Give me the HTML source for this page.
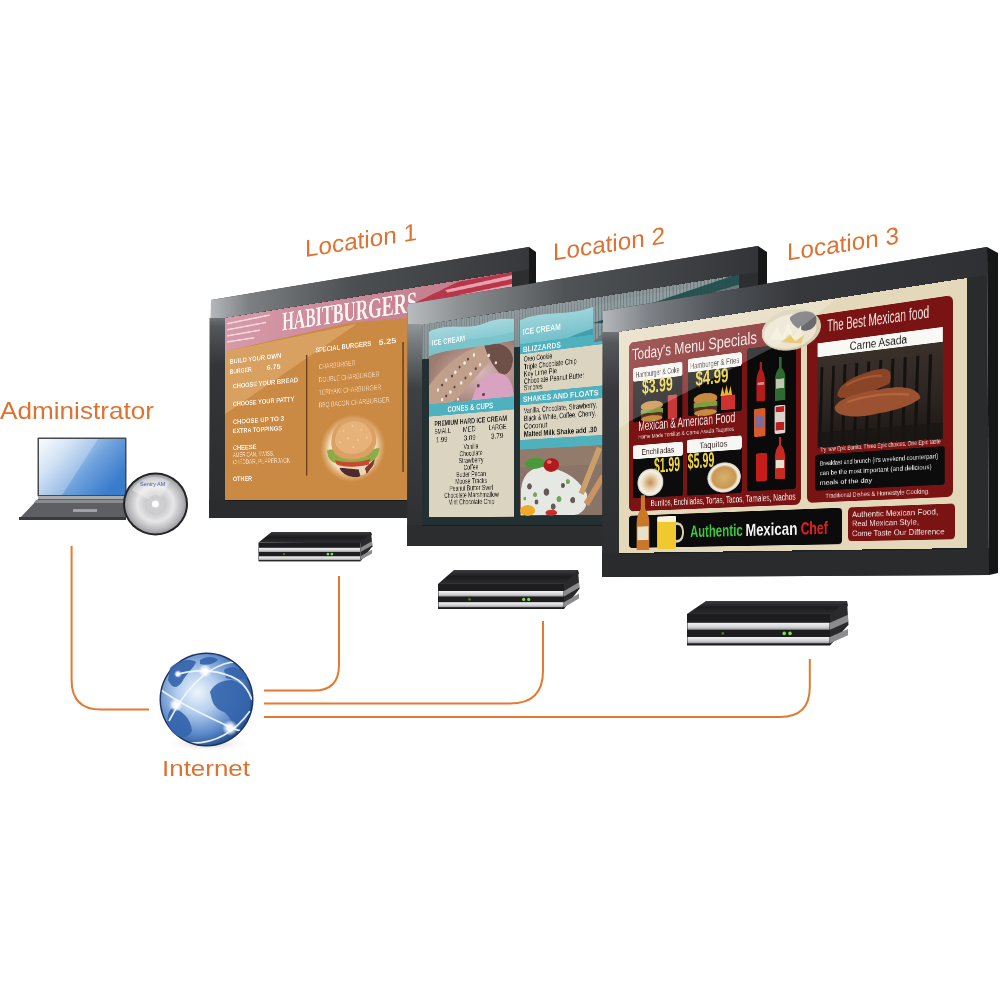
<!DOCTYPE html>
<html><head><meta charset="utf-8">
<style>
html,body{margin:0;padding:0;background:#fff;}
body{width:1000px;height:1000px;position:relative;overflow:hidden;font-family:"Liberation Sans",sans-serif;}
.L{position:absolute;left:0;top:0;width:1000px;height:1000px;}
.scr{position:absolute;left:0;top:0;width:640px;height:360px;transform-origin:0 0;overflow:hidden;}
.scr svg{display:block;}
</style></head><body>

<!-- ============ MONITOR 1 ============ -->
<svg class="L" viewBox="0 0 1000 1000">
  <defs>
    <linearGradient id="bz1" x1="211" y1="0" x2="529" y2="0" gradientUnits="userSpaceOnUse">
      <stop offset="0" stop-color="#b4b8ba"/><stop offset="0.12" stop-color="#7c8083"/><stop offset="0.45" stop-color="#4c4f52"/><stop offset="1" stop-color="#36383b"/>
    </linearGradient>
    <linearGradient id="bl1" x1="0" y1="300" x2="0" y2="518" gradientUnits="userSpaceOnUse">
      <stop offset="0" stop-color="#a8acae"/><stop offset="0.12" stop-color="#55585b"/><stop offset="0.3" stop-color="#333538"/><stop offset="1" stop-color="#2a2c2e"/>
    </linearGradient>
  </defs>
  <polygon points="211,300 529,247 529,518 209,518" fill="#2c2e30"/>
  <polygon points="211,300 529,247 529,269.3 211,320.2" fill="url(#bz1)"/>
  <polygon points="209.5,318 225,318 225,500 209.5,500" fill="url(#bl1)"/>
  <polygon points="209,500 529,500 529,518 209,518" fill="#2a2c2e"/>
  <line x1="225" y1="500.5" x2="529" y2="500.5" stroke="#1a1b1c" stroke-width="1"/>
  <polygon points="529,247 536,252 536,518 529,518" fill="#161718"/>
</svg>
<div class="scr" id="s1" style="transform:matrix3d(0.28703399,-0.15762061,0,-0.00031524123,0,0.50555556,0,0,0,0,1,0,225,318,0,1)">
<svg width="640" height="360" viewBox="0 0 640 360" font-family="Liberation Sans, sans-serif">
  <defs>
    <radialGradient id="bgl" cx="0.5" cy="0.5" r="0.5">
      <stop offset="0" stop-color="#fff6e6"/><stop offset="0.7" stop-color="#fff0d8" stop-opacity="0.85"/><stop offset="1" stop-color="#f0c890" stop-opacity="0"/>
    </radialGradient>
    <linearGradient id="pinkg" x1="0" y1="0" x2="1" y2="0">
      <stop offset="0" stop-color="#d79aa8"/><stop offset="1" stop-color="#c07888"/>
    </linearGradient>
  </defs>
  <rect width="640" height="360" fill="#ca8a44"/>
  <!-- glare lighter region on the body -->
  <polygon points="0,66 330,48 0,190" fill="#dba467" opacity="0.85"/>
  <!-- pink band -->
  <polygon points="0,0 640,0 640,40 438,50 314,44 0,66" fill="url(#pinkg)"/>
  <polygon points="440,30 540,2 640,0 640,34 470,36" fill="#b8354a"/>
  <polygon points="515,12 640,5 640,11 520,17" fill="#e6a2ae"/>
  <polygon points="540,24 640,19 640,24 545,28" fill="#e6a2ae"/>
  <g stroke="#f3d8de" stroke-width="3">
    <line x1="5" y1="12" x2="120" y2="8"/><line x1="5" y1="24" x2="110" y2="21"/><line x1="5" y1="36" x2="95" y2="34"/><line x1="5" y1="48" x2="80" y2="47"/>
  </g>
  <text x="152" y="41" font-family="Liberation Serif, serif" font-weight="bold" font-size="50" fill="#fbf4f2" textLength="307" lengthAdjust="spacingAndGlyphs">HABITBURGERS</text>
  <!-- dividers -->
  <line x1="213" y1="92" x2="213" y2="315" stroke="#6a3c18" stroke-width="3"/>
  <line x1="430" y1="90" x2="430" y2="312" stroke="#6a3c18" stroke-width="3"/>
  <!-- left column -->
  <g fill="#fbf2e6" font-weight="bold" font-size="13">
    <text x="13" y="92" textLength="137" lengthAdjust="spacingAndGlyphs">BUILD YOUR OWN</text>
    <text x="13" y="112" textLength="60" lengthAdjust="spacingAndGlyphs">BURGER</text>
    <text x="112" y="112" textLength="36" lengthAdjust="spacingAndGlyphs">6.75</text>
    <text x="22" y="141" textLength="170" lengthAdjust="spacingAndGlyphs">CHOOSE YOUR BREAD</text>
    <text x="22" y="176" textLength="161" lengthAdjust="spacingAndGlyphs">CHOOSE YOUR PATTY</text>
    <text x="22" y="211" textLength="135" lengthAdjust="spacingAndGlyphs">CHOOSE UP TO 3</text>
    <text x="22" y="229" textLength="130" lengthAdjust="spacingAndGlyphs">EXTRA TOPPINGS</text>
    <text x="22" y="262" textLength="64" lengthAdjust="spacingAndGlyphs">CHEESE</text>
    <text x="22" y="323" textLength="52" lengthAdjust="spacingAndGlyphs">OTHER</text>
  </g>
  <g fill="#f4dcc0" font-size="12">
    <text x="22" y="276" textLength="110" lengthAdjust="spacingAndGlyphs">AMERICAN, SWISS,</text>
    <text x="22" y="290" textLength="150" lengthAdjust="spacingAndGlyphs">CHEDDAR, PEPPERJACK</text>
  </g>
  <!-- right column -->
  <g fill="#fbf2e6" font-weight="bold" font-size="13">
    <text x="234" y="90" textLength="128" lengthAdjust="spacingAndGlyphs">SPECIAL BURGERS</text>
    <text x="378" y="90" textLength="38" lengthAdjust="spacingAndGlyphs">5.25</text>
  </g>
  <g fill="#f0d2b0" font-size="12">
    <text x="242" y="121" textLength="85" lengthAdjust="spacingAndGlyphs">CHARBURGER</text>
    <text x="242" y="145" textLength="138" lengthAdjust="spacingAndGlyphs">DOUBLE CHARBURGER</text>
    <text x="242" y="168" textLength="142" lengthAdjust="spacingAndGlyphs">TERIYAKI CHARBURGER</text>
    <text x="242" y="191" textLength="160" lengthAdjust="spacingAndGlyphs">BBQ BACON CHARBURGER</text>
  </g>
  <!-- burger -->
  <ellipse cx="319" cy="268" rx="74" ry="60" fill="url(#bgl)"/>
  <path d="M290,300 C300,318 350,326 368,300 L364,290 L290,290 Z" fill="#ead6b8"/>
  <path d="M290,302 C298,316 320,322 338,318 L334,306 Z" fill="#4e2a2c"/>
  <path d="M348,304 L370,288 L366,300 L352,314 Z" fill="#7a3a30"/>
  <path d="M262,270 C270,266 286,270 298,276 C314,282 340,280 356,276 C366,272 374,268 380,270 C378,284 368,294 352,294 C330,298 300,298 282,294 C268,290 262,282 262,270 Z" fill="#8cac48"/>
  <path d="M280,288 C304,294 336,294 360,288 L356,298 C332,302 304,302 284,296 Z" fill="#c8482e"/>
  <path d="M272,262 C268,232 292,214 322,214 C352,214 376,232 372,262 C366,282 340,288 322,288 C300,288 276,282 272,262 Z" fill="#daa064"/>
  <path d="M280,256 C280,232 300,220 322,220 C346,220 364,234 364,256 C356,272 338,278 322,278 C304,278 286,272 280,256 Z" fill="#e6b27a"/>
  <g fill="#f4dcb8" opacity="0.6"><circle cx="300" cy="236" r="2"/><circle cx="320" cy="228" r="2"/><circle cx="340" cy="236" r="2"/><circle cx="310" cy="250" r="2"/><circle cx="332" cy="254" r="2"/><circle cx="352" cy="250" r="2"/><circle cx="292" cy="256" r="2"/><circle cx="322" cy="266" r="2"/></g>
</svg>
</div>

<!-- ============ MONITOR 2 ============ -->
<svg class="L" viewBox="0 0 1000 1000">
  <defs>
    <linearGradient id="bz2" x1="408" y1="0" x2="758" y2="0" gradientUnits="userSpaceOnUse">
      <stop offset="0" stop-color="#b8bcbe"/><stop offset="0.15" stop-color="#8c9093"/><stop offset="0.45" stop-color="#505356"/><stop offset="1" stop-color="#323437"/>
    </linearGradient>
    <linearGradient id="bl2" x1="0" y1="304" x2="0" y2="546" gradientUnits="userSpaceOnUse">
      <stop offset="0" stop-color="#b0b4b6"/><stop offset="0.15" stop-color="#7a7e81"/><stop offset="0.35" stop-color="#3e4043"/><stop offset="1" stop-color="#2c2e30"/>
    </linearGradient>
  </defs>
  <polygon points="408,304 758,246 758,546 407,546" fill="#2c2e30"/>
  <polygon points="408,304 758,246 758,272 408,327.2" fill="url(#bz2)"/>
  <polygon points="407.5,324 422,324 422,525 407.5,525" fill="url(#bl2)"/>
  <polygon points="407,525 758,525 758,546 407,546" fill="#2b2d2f"/>
  <line x1="422" y1="525.5" x2="758" y2="525.5" stroke="#1a1b1c" stroke-width="1"/>
  <polygon points="758,246 767,252 767,546 758,546" fill="#161718"/>
</svg>
<div class="scr" id="s2" style="transform:matrix3d(0.264375,-0.1640625,0,-0.0003125,0,0.55555556,0,0,0,0,1,0,422,325,0,1)">
<svg width="640" height="360" viewBox="0 0 640 360" font-family="Liberation Sans, sans-serif">
  <defs>
    <linearGradient id="s2top" x1="0" y1="0" x2="0" y2="1">
      <stop offset="0" stop-color="#9aa3a6"/><stop offset="1" stop-color="#7a8689"/>
    </linearGradient>
    <pattern id="vlines" width="6" height="10" patternUnits="userSpaceOnUse">
      <rect width="6" height="10" fill="#8e989b"/><rect width="2" height="10" fill="#6f7a7d"/>
    </pattern>
    <linearGradient id="tealh" x1="0" y1="0" x2="0" y2="1">
      <stop offset="0" stop-color="#a6d8de"/><stop offset="1" stop-color="#74c0ca"/>
    </linearGradient>
    <radialGradient id="icph" cx="0.6" cy="0.5" r="0.6">
      <stop offset="0" stop-color="#d8b8c0"/><stop offset="0.6" stop-color="#b8948c"/><stop offset="1" stop-color="#9c7c70"/>
    </radialGradient>
  </defs>
  <rect width="640" height="360" fill="#223032"/>
  <rect width="640" height="62" fill="url(#vlines)"/>
  <rect width="640" height="62" fill="url(#s2top)" opacity="0.35"/>
  <!-- panel 1 -->
  <rect x="18" y="30" width="198" height="316" fill="#dbd4c0"/>
  <path d="M18,14 C60,2 110,22 150,14 C180,8 200,12 216,14 V60 H18 Z" fill="url(#tealh)"/>
  <rect x="18" y="48" width="198" height="100" fill="url(#icph)"/>
  <path d="M18,148 L18,110 C50,80 110,50 160,50 L190,56 C150,90 100,130 70,148 Z" fill="#c0a08a"/>
  <path d="M150,52 C180,46 210,58 214,80 C214,100 200,110 186,104 C170,90 156,70 150,52 Z" fill="#6e5048"/>
  <path d="M120,148 C130,110 160,96 190,104 C210,112 216,130 216,148 Z" fill="#d8a2c0"/>
  <g fill="#f6f0ec" opacity="0.9">
    <circle cx="40" cy="120" r="3"/><circle cx="60" cy="104" r="3"/><circle cx="82" cy="92" r="3"/><circle cx="104" cy="78" r="3"/><circle cx="126" cy="66" r="3"/><circle cx="70" cy="126" r="3"/><circle cx="96" cy="112" r="3"/><circle cx="118" cy="98" r="3"/><circle cx="140" cy="84" r="3"/><circle cx="50" cy="138" r="3"/><circle cx="88" cy="140" r="2.5"/><circle cx="160" cy="70" r="3"/><circle cx="176" cy="84" r="2.5"/>
  </g>
  <g fill="#4a2a36" opacity="0.8">
    <circle cx="50" cy="112" r="2.5"/><circle cx="74" cy="98" r="2.5"/><circle cx="92" cy="84" r="2.5"/><circle cx="112" cy="72" r="2.5"/><circle cx="80" cy="118" r="2.5"/><circle cx="106" cy="104" r="2.5"/><circle cx="130" cy="90" r="2.5"/><circle cx="60" cy="132" r="2.5"/><circle cx="136" cy="120" r="3"/><circle cx="148" cy="136" r="3"/>
  </g>
  <path d="M18,40 C60,30 120,44 216,36 V50 C120,56 60,48 18,58 Z" fill="#7cc4cc"/>
  <text x="25" y="40" font-size="15" font-weight="bold" fill="#f0f8f8" textLength="80" lengthAdjust="spacingAndGlyphs">ICE CREAM</text>
  <rect x="18" y="144" width="198" height="22" fill="#4fb0be"/>
  <text x="63" y="161" font-size="14" font-weight="bold" fill="#eef8f8" textLength="107" lengthAdjust="spacingAndGlyphs">CONES &amp; CUPS</text>
  <g fill="#2a2a28" font-size="12">
    <text x="31" y="184" textLength="170" lengthAdjust="spacingAndGlyphs" font-weight="bold">PREMIUM HARD ICE CREAM</text>
    <text x="31" y="198" textLength="40" lengthAdjust="spacingAndGlyphs">SMALL</text>
    <text x="100" y="198" textLength="30" lengthAdjust="spacingAndGlyphs">MED</text>
    <text x="160" y="198" textLength="40" lengthAdjust="spacingAndGlyphs">LARGE</text>
    <text x="35" y="213" textLength="28" lengthAdjust="spacingAndGlyphs">1.99</text>
    <text x="102" y="213" textLength="28" lengthAdjust="spacingAndGlyphs">3.09</text>
    <text x="165" y="213" textLength="28" lengthAdjust="spacingAndGlyphs">3.79</text>
  </g>
  <g fill="#2a2a28" font-size="12" text-anchor="middle">
    <text x="119" y="228">Vanilla</text>
    <text x="119" y="240">Chocolate</text>
    <text x="119" y="252">Strawberry</text>
    <text x="119" y="264">Coffee</text>
    <text x="119" y="276">Butter Pecan</text>
    <text x="119" y="288">Moose Tracks</text>
    <text x="119" y="300">Peanut Butter Swirl</text>
    <text x="119" y="312">Chocolate Marshmallow</text>
    <text x="119" y="324">Mint Chocolate Chip</text>
  </g>
  <!-- panel 2 -->
  <rect x="230" y="30" width="410" height="314" fill="#dbd4c0"/>
  <path d="M230,18 C280,6 330,24 380,14 C420,6 520,10 640,6 V58 H230 Z" fill="url(#tealh)"/>
  <path d="M330,58 C380,46 460,36 640,28 V42 C470,48 400,56 380,58 Z" fill="#3e9fae"/>
  <text x="236" y="43" font-size="15" font-weight="bold" fill="#eef8f8" textLength="80" lengthAdjust="spacingAndGlyphs">ICE CREAM</text>
  <rect x="230" y="58" width="410" height="17" fill="#4fb0be"/>
  <text x="236" y="72" font-size="13" font-weight="bold" fill="#eef8f8" textLength="80" lengthAdjust="spacingAndGlyphs">BLIZZARDS</text>
  <g fill="#1e1e1c" font-size="12">
    <text x="238" y="88" textLength="60" lengthAdjust="spacingAndGlyphs">Oreo Cookie</text>
    <text x="238" y="101" textLength="110" lengthAdjust="spacingAndGlyphs">Triple Chocolate Chip</text>
    <text x="238" y="113" textLength="70" lengthAdjust="spacingAndGlyphs">Key Lime Pie</text>
    <text x="238" y="125" textLength="125" lengthAdjust="spacingAndGlyphs">Chocolate Peanut Butter</text>
    <text x="238" y="136" textLength="40" lengthAdjust="spacingAndGlyphs">S'mores</text>
  </g>
  <rect x="230" y="140" width="410" height="20" fill="#4fb0be"/>
  <text x="236" y="155" font-size="13" font-weight="bold" fill="#eef8f8" textLength="155" lengthAdjust="spacingAndGlyphs">SHAKES AND FLOATS</text>
  <g fill="#1e1e1c" font-size="12">
    <text x="238" y="174" textLength="150" lengthAdjust="spacingAndGlyphs">Vanilla, Chocolate, Strawberry,</text>
    <text x="238" y="187" textLength="148" lengthAdjust="spacingAndGlyphs">Black &amp; White, Coffee, Cherry,</text>
    <text x="238" y="200" textLength="50" lengthAdjust="spacingAndGlyphs">Coconut</text>
    <text x="238" y="213" textLength="150" lengthAdjust="spacingAndGlyphs" font-weight="bold">Malted Milk Shake   add .30</text>
  </g>
  <rect x="230" y="218" width="410" height="16" fill="#4fb0be"/>
  <rect x="230" y="234" width="410" height="110" fill="#8a7468"/>
  <rect x="230" y="234" width="410" height="30" fill="#9a8070" opacity="0.6"/>
  <path d="M232,300 C236,270 262,262 290,266 C320,270 350,284 368,310 C372,330 360,344 340,344 L232,344 Z" fill="#e6e8e4"/>
  <g fill="#3a2a28" opacity="0.75"><circle cx="250" cy="296" r="5"/><circle cx="286" cy="306" r="6"/><circle cx="320" cy="296" r="4"/><circle cx="300" cy="330" r="5"/><circle cx="340" cy="320" r="5"/><circle cx="265" cy="322" r="4"/></g>
  <g fill="#5a9a40" opacity="0.85"><circle cx="262" cy="310" r="4"/><circle cx="312" cy="318" r="5"/><circle cx="330" cy="290" r="4"/><circle cx="240" cy="316" r="3"/></g>
  <ellipse cx="262" cy="258" rx="22" ry="9" fill="#4a9a3a"/>
  <ellipse cx="296" cy="262" rx="16" ry="11" fill="#b01c1c"/>
  <ellipse cx="292" cy="257" rx="5" ry="3" fill="#e86a6a"/>
  <path d="M352,308 L388,236 L398,240 L362,312 Z" fill="#caa06a"/>
  <path d="M362,324 L396,280 L404,286 L372,330 Z" fill="#c89464"/>
  <ellipse cx="246" cy="336" rx="16" ry="9" fill="#f0a828"/>
  <ellipse cx="296" cy="340" rx="12" ry="5" fill="#c83030"/>
  <rect x="380" y="0" width="260" height="70" fill="url(#vlines)" opacity="0.9"/>
  <polygon points="380,40 640,-2 640,14 420,44" fill="#1c4a4a" opacity="0.9"/>
  <polygon points="420,44 640,14 640,70 380,70" fill="#6c7478" opacity="0.9"/>
</svg>
</div>

<!-- ============ MONITOR 3 ============ -->
<svg class="L" viewBox="0 0 1000 1000">
  <defs>
    <linearGradient id="bz3" x1="603" y1="0" x2="987" y2="0" gradientUnits="userSpaceOnUse">
      <stop offset="0" stop-color="#b4b8ba"/><stop offset="0.12" stop-color="#7e8286"/><stop offset="0.3" stop-color="#505458"/><stop offset="0.5" stop-color="#36383b"/><stop offset="1" stop-color="#2e3033"/>
    </linearGradient>
    <linearGradient id="bl3" x1="0" y1="311" x2="0" y2="577" gradientUnits="userSpaceOnUse">
      <stop offset="0" stop-color="#a4a8aa"/><stop offset="0.12" stop-color="#55585b"/><stop offset="0.3" stop-color="#36383b"/><stop offset="1" stop-color="#2a2c2e"/>
    </linearGradient>
  </defs>
  <polygon points="603,311 987,247 989,575 602,577" fill="#2a2b2d"/>
  <polygon points="603,311 987,247 987,274.9 603,334.5" fill="url(#bz3)"/>
  <polygon points="602.5,332 619,332 619,553 602.5,553" fill="url(#bl3)"/>
  <polygon points="602,553 989,548 989,575 602,577" fill="#2a2b2d"/>
  <line x1="619" y1="553.5" x2="967" y2="548.5" stroke="#1a1b1c" stroke-width="1"/>
  <polygon points="987,247 998,253 998,573 989,575" fill="#151617"/>
</svg>
<div class="scr" id="s3" style="transform:matrix3d(0.26954282,-0.16320602,0,-0.00028356481,0,0.61388889,0,0,0,0,1,0,619,332,0,1)">
<svg width="640" height="360" viewBox="0 0 640 360" font-family="Liberation Sans, sans-serif">
  <defs>
    <linearGradient id="s3gl" x1="0" y1="0" x2="1" y2="1">
      <stop offset="0" stop-color="#ffffff" stop-opacity="0.32"/><stop offset="1" stop-color="#ffffff" stop-opacity="0.12"/>
    </linearGradient>
    <radialGradient id="plate" cx="0.5" cy="0.5" r="0.5">
      <stop offset="0" stop-color="#d9b070"/><stop offset="0.7" stop-color="#c99850"/><stop offset="0.85" stop-color="#f4efe6"/><stop offset="1" stop-color="#d8d2c8"/>
    </radialGradient>
    <radialGradient id="plate2" cx="0.5" cy="0.5" r="0.5">
      <stop offset="0" stop-color="#c88a50"/><stop offset="0.55" stop-color="#e8d8b8"/><stop offset="0.85" stop-color="#f6f2ea"/><stop offset="1" stop-color="#cfc8bc"/>
    </radialGradient>
    <linearGradient id="grill" x1="0" y1="0" x2="0" y2="1">
      <stop offset="0" stop-color="#3a302a"/><stop offset="0.5" stop-color="#2e2622"/><stop offset="1" stop-color="#1c1816"/>
    </linearGradient>
  </defs>
  <rect width="640" height="360" fill="#e4d8bb"/>
  <!-- left red panel -->
  <rect x="22" y="20" width="344" height="273" rx="9" fill="#7a1414"/>
  <text x="29" y="49" font-size="26" fill="#f2e8e4" textLength="256" lengthAdjust="spacingAndGlyphs">Today's Menu Specials</text>
  <!-- box1 -->
  <rect x="31" y="62" width="106" height="88" rx="4" fill="#0c0c0c"/>
  <rect x="31" y="62" width="106" height="22" rx="4" fill="#f6f6f2"/>
  <text x="37" y="78" font-size="12" fill="#3a2a2a" textLength="94" lengthAdjust="spacingAndGlyphs">Hamburger &amp; Coke</text>
  <text x="51" y="105" font-size="32" font-weight="bold" fill="#f2d640" textLength="66" lengthAdjust="spacingAndGlyphs">$3.99</text>
  <ellipse cx="72" cy="126" rx="24" ry="8" fill="#c88a40"/>
  <rect x="48" y="131" width="48" height="8" fill="#7aa040"/>
  <rect x="49" y="137" width="46" height="7" fill="#5a3020"/>
  <ellipse cx="72" cy="146" rx="23" ry="5" fill="#c88a40"/>
  <rect x="106" y="112" width="20" height="38" rx="3" fill="#c83838"/>
  <!-- box2 -->
  <rect x="148" y="59" width="108" height="89" rx="4" fill="#0c0c0c"/>
  <rect x="148" y="59" width="108" height="21" rx="4" fill="#f6f6f2"/>
  <text x="153" y="75" font-size="12" fill="#3a2a2a" textLength="98" lengthAdjust="spacingAndGlyphs">Hamburger &amp; Fries</text>
  <text x="164" y="102" font-size="32" font-weight="bold" fill="#f2d640" textLength="66" lengthAdjust="spacingAndGlyphs">$4.99</text>
  <ellipse cx="184" cy="124" rx="24" ry="9" fill="#c88a40"/>
  <rect x="160" y="129" width="48" height="8" fill="#7aa040"/>
  <rect x="161" y="136" width="46" height="7" fill="#5a3020"/>
  <ellipse cx="184" cy="145" rx="23" ry="5" fill="#c88a40"/>
  <path d="M214,122 l4,-14 l4,12 l4,-14 l4,14 l4,-12 l3,14 z" fill="#f0b030"/>
  <rect x="215" y="122" width="28" height="22" fill="#d03030"/>
  <!-- bottles column -->
  <rect x="266" y="55" width="91" height="215" rx="4" fill="#0a0a0a"/>
  <path d="M290,78 h4 v10 q6,8 6,18 v30 h-16 v-30 q0,-10 6,-18 z" fill="#b41c1c"/>
  <rect x="286" y="108" width="12" height="4" fill="#f0d0d0" opacity="0.6"/>
  <path d="M326,74 h5 v16 q7,6 7,16 v32 h-19 v-32 q0,-10 7,-16 z" fill="#2e6a32"/>
  <rect x="321" y="106" width="15" height="14" fill="#d8d8c8" opacity="0.85"/>
  <rect x="279" y="147" width="22" height="42" rx="3" fill="#d85a28"/>
  <rect x="281" y="158" width="18" height="18" fill="#5a70c8" opacity="0.7"/>
  <rect x="318" y="145" width="20" height="42" rx="3" fill="#dcd4cc"/>
  <rect x="320" y="147" width="16" height="8" fill="#c02020"/>
  <rect x="320" y="170" width="16" height="12" fill="#b82020"/>
  <rect x="283" y="214" width="21" height="42" rx="3" fill="#c81c1c"/>
  <path d="M326,192 h4 v12 q7,6 7,16 v34 h-18 v-34 q0,-10 7,-16 z" fill="#c82a20"/>
  <rect x="320" y="226" width="16" height="12" fill="#e8e0d0"/>
  <!-- mid text -->
  <text x="43" y="164" font-size="22" fill="#f2e8e4" textLength="200" lengthAdjust="spacingAndGlyphs">Mexican &amp; American Food</text>
  <text x="43" y="177" font-size="10" fill="#e8d8d0" textLength="198" lengthAdjust="spacingAndGlyphs">Home Made Tortillas &amp; Carne Asada Taquitos</text>
  <!-- box3 -->
  <rect x="31" y="187" width="107" height="85" rx="4" fill="#0c0c0c"/>
  <rect x="31" y="187" width="107" height="22" rx="4" fill="#f6f6f2"/>
  <text x="50" y="203" font-size="12" fill="#3a2a2a" textLength="70" lengthAdjust="spacingAndGlyphs">Enchiladas</text>
  <text x="77" y="233" font-size="34" font-weight="bold" fill="#f2d640" textLength="55" lengthAdjust="spacingAndGlyphs">$1.99</text>
  <ellipse cx="69" cy="248" rx="28" ry="22" fill="url(#plate2)"/>
  <!-- box4 -->
  <rect x="146" y="185" width="110" height="87" rx="4" fill="#0c0c0c"/>
  <rect x="146" y="185" width="110" height="21" rx="4" fill="#f6f6f2"/>
  <text x="172" y="200" font-size="12" fill="#3a2a2a" textLength="56" lengthAdjust="spacingAndGlyphs">Taquitos</text>
  <text x="148" y="230" font-size="34" font-weight="bold" fill="#f2d640" textLength="54" lengthAdjust="spacingAndGlyphs">$5.99</text>
  <ellipse cx="221" cy="247" rx="33" ry="23" fill="url(#plate)"/>
  <text x="70" y="286" font-size="15" fill="#f2e8e4" textLength="287" lengthAdjust="spacingAndGlyphs">Burritos, Enchiladas, Tortas, Tacos, Tamales, Nachos</text>

  <!-- right red panel -->
  <rect x="377" y="20" width="242" height="271" rx="9" fill="#7a1414"/>
  <text x="413" y="46" font-size="24" fill="#f2e8e4" textLength="169" lengthAdjust="spacingAndGlyphs">The Best Mexican food</text>
  <rect x="396" y="61" width="207" height="20" fill="#f8f8f4"/>
  <text x="452" y="77" font-size="17" fill="#1e1e1e" textLength="95" lengthAdjust="spacingAndGlyphs">Carne Asada</text>
  <rect x="396" y="81" width="207" height="131" fill="url(#grill)"/>
  <g stroke="#141210" stroke-width="5">
    <line x1="404" y1="96" x2="400" y2="210"/><line x1="424" y1="96" x2="420" y2="210"/><line x1="444" y1="96" x2="440" y2="210"/><line x1="464" y1="96" x2="460" y2="210"/><line x1="484" y1="96" x2="480" y2="210"/><line x1="504" y1="96" x2="500" y2="210"/><line x1="524" y1="96" x2="520" y2="210"/><line x1="544" y1="96" x2="540" y2="210"/><line x1="564" y1="96" x2="560" y2="210"/><line x1="584" y1="96" x2="580" y2="210"/>
  </g>
  <rect x="396" y="190" width="207" height="22" fill="#181614" opacity="0.7"/>
  <path d="M432,134 C440,118 476,110 504,108 C520,108 524,118 518,130 C496,138 466,142 444,144 C434,144 428,140 432,134 Z" fill="#8a4426"/>
  <path d="M426,156 C432,142 474,136 524,136 C550,136 566,144 568,154 C556,164 516,170 476,172 C446,172 426,166 426,156 Z" fill="#9c5230"/>
  <path d="M448,150 C474,144 516,142 550,148" stroke="#c07040" stroke-width="3" fill="none" opacity="0.7"/>
  <path d="M446,126 C466,118 490,116 506,118" stroke="#b06238" stroke-width="3" fill="none" opacity="0.7"/>
  <text x="400" y="218" font-size="8.5" fill="#f0e0d8" textLength="200" lengthAdjust="spacingAndGlyphs">Try new Epic Burrito. Three Epic choices. One Epic taste</text>
  <rect x="392" y="222" width="214" height="52" rx="4" fill="#0c0c0c"/>
  <text x="400" y="238" font-size="9.5" fill="#f2f2f2" textLength="196" lengthAdjust="spacingAndGlyphs">Breakfast and brunch (it's weekend counterpart)</text>
  <text x="400" y="252" font-size="9.5" fill="#f2f2f2" textLength="186" lengthAdjust="spacingAndGlyphs">can be the most important (and delicious)</text>
  <text x="400" y="266" font-size="9.5" fill="#f2f2f2" textLength="90" lengthAdjust="spacingAndGlyphs">meals of the day</text>
  <text x="410" y="285" font-size="10" fill="#f0e0d8" textLength="173" lengthAdjust="spacingAndGlyphs">Traditional Dishes &amp; Homestyle Cooking.</text>

  <!-- nachos plate -->
  <ellipse cx="348" cy="36" rx="54" ry="30" fill="#d8ccb0"/>
  <ellipse cx="346" cy="38" rx="48" ry="25" fill="#ece4d0"/>
  <path d="M346,18 C360,8 390,10 394,24 C396,36 384,42 372,40 C360,36 348,28 346,18 Z" fill="#6a6a6e"/>
  <path d="M310,46 l12,-18 l10,16 l12,-20 l8,22 l14,-14 l4,20 z" fill="#f4eed8"/>
  <path d="M330,52 l16,-10 l10,12 l16,-8 l-6,12 z" fill="#e8c870"/>
  <!-- bottom black bar -->
  <rect x="22" y="300" width="417" height="52" rx="6" fill="#0b0b0b"/>
  <text x="153" y="337" font-size="26" font-weight="bold" fill="#3cc83c" textLength="105" lengthAdjust="spacingAndGlyphs">Authentic</text>
  <text x="263" y="337" font-size="26" font-weight="bold" fill="#f4f4f4" textLength="97" lengthAdjust="spacingAndGlyphs">Mexican</text>
  <text x="366" y="337" font-size="26" font-weight="bold" fill="#e02020" textLength="48" lengthAdjust="spacingAndGlyphs">Chef</text>
  <!-- beer bottle -->
  <path d="M48,268 h10 v22 q9,10 9,24 v42 h-28 v-42 q0,-14 9,-24 z" fill="#c87828"/>
  <rect x="41" y="318" width="24" height="22" fill="#e8e0c8"/>
  <!-- beer mug -->
  <rect x="84" y="303" width="40" height="52" rx="4" fill="#f0c830"/>
  <rect x="84" y="303" width="40" height="9" rx="3" fill="#fbf4dc"/>
  <path d="M124,315 q14,0 14,14 q0,14 -14,14" fill="none" stroke="#d8d0b0" stroke-width="4"/>
  <!-- bottom right red box -->
  <rect x="449" y="300" width="173" height="48" rx="6" fill="#7a1414"/>
  <text x="456" y="314" font-size="11" fill="#f2e8e4" textLength="140" lengthAdjust="spacingAndGlyphs">Authentic Mexican Food,</text>
  <text x="456" y="327" font-size="11" fill="#f2e8e4" textLength="110" lengthAdjust="spacingAndGlyphs">Real Mexican Style,</text>
  <text x="456" y="341" font-size="11" fill="#f2e8e4" textLength="150" lengthAdjust="spacingAndGlyphs">Come Taste Our Difference</text>
  <!-- glare -->
  <polygon points="0,0 430,0 333,53 173,102 21,148 0,158" fill="url(#s3gl)"/>
</svg>
</div>

<!-- ============ FOREGROUND: labels, lines, boxes, globe, laptop ============ -->
<svg class="L" viewBox="0 0 1000 1000">
  <defs>
    <linearGradient id="boxtop" x1="0" y1="0" x2="0" y2="1">
      <stop offset="0" stop-color="#3c3c3e"/><stop offset="0.45" stop-color="#1c1c1e"/><stop offset="0.85" stop-color="#2a2a2c"/><stop offset="1" stop-color="#4a4a4c"/>
    </linearGradient>
    <linearGradient id="boxsil" x1="0" y1="0" x2="0" y2="1">
      <stop offset="0" stop-color="#f2f2f4"/><stop offset="0.6" stop-color="#d4d4d6"/><stop offset="1" stop-color="#9a9a9c"/>
    </linearGradient>
    <radialGradient id="globeg" cx="0.4" cy="0.42" r="0.62">
      <stop offset="0" stop-color="#eef4fb"/><stop offset="0.35" stop-color="#b6d0ee"/><stop offset="0.75" stop-color="#5a88c8"/><stop offset="1" stop-color="#24508e"/>
    </radialGradient>
    <radialGradient id="glow" cx="0.5" cy="0.5" r="0.5">
      <stop offset="0" stop-color="#ffffff"/><stop offset="0.4" stop-color="#ffffff" stop-opacity="0.9"/><stop offset="1" stop-color="#ffffff" stop-opacity="0"/>
    </radialGradient>
    <radialGradient id="shad" cx="0.5" cy="0.5" r="0.5">
      <stop offset="0" stop-color="#c8c8c8"/><stop offset="1" stop-color="#ffffff" stop-opacity="0"/>
    </radialGradient>
    <linearGradient id="lapscr" x1="0" y1="0" x2="1" y2="0.6">
      <stop offset="0" stop-color="#f8fbfe"/><stop offset="0.3" stop-color="#c4daf2"/><stop offset="0.65" stop-color="#6fa2dc"/><stop offset="1" stop-color="#3a7ccc"/>
    </linearGradient>
    <radialGradient id="cdg" cx="0.5" cy="0.5" r="0.5">
      <stop offset="0" stop-color="#f2f2f2"/><stop offset="0.3" stop-color="#c9c9cb"/><stop offset="0.6" stop-color="#e6e6e8"/><stop offset="0.9" stop-color="#b4b4b8"/><stop offset="1" stop-color="#9a9a9e"/>
    </radialGradient>
  </defs>

  <!-- laptop -->
  <g>
    <rect x="37.5" y="437.5" width="89" height="59" rx="1" fill="#48494c"/>
    <rect x="39" y="439" width="86" height="56" fill="url(#lapscr)"/>
    <polygon points="39,439 98,439 62,495 39,495" fill="#ffffff" opacity="0.25"/>
    <polygon points="40,494 124,494 80,470" fill="#ffffff" opacity="0.0"/>
    <rect x="38" y="496" width="88" height="3" fill="#a9aaac"/>
    <polygon points="38,499 126,499 126,519 19,519" fill="#5e5f62"/>
    <polygon points="36,500 126,500 126,503 34,503" fill="#8a8b8e"/>
    <rect x="73" y="509" width="24" height="3" fill="#a0a1a4"/>
    <polygon points="19,517 126,517 126,520 19,520" fill="#3a3a3c"/>
  </g>
  <!-- CD -->
  <g>
    <ellipse cx="155.5" cy="504" rx="32.5" ry="31.5" fill="#232426"/>
    <ellipse cx="155.5" cy="504" rx="30.5" ry="29.5" fill="url(#cdg)"/>
    <path d="M132,490 A26,26 0 0 1 170,482 L156,504 Z" fill="#ffffff" opacity="0.35"/>
    <circle cx="155.5" cy="504" r="9" fill="#cfcfd2"/>
    <circle cx="155.5" cy="504" r="3.5" fill="#ffffff"/>
    <text x="140" y="486" font-size="5.5" fill="#4a5aa0" font-family="Liberation Sans, sans-serif">Sentry AM</text>
  </g>

  <!-- globe -->
  <g>
    <ellipse cx="208" cy="744" rx="44" ry="8" fill="url(#shad)"/>
    <circle cx="206.5" cy="699.5" r="47" fill="#1f355f"/>
    <circle cx="206.5" cy="699.5" r="45.5" fill="url(#globeg)"/>
    <g fill="#3464ac" opacity="0.9">
      <path d="M210,692 C214,684 222,680 232,680 C240,682 248,690 250,700 C250,712 246,722 238,728 C232,724 230,716 224,712 C218,710 214,706 212,700 Z"/>
      <path d="M224,670 C232,664 242,668 248,678 C242,680 234,680 226,678 Z"/>
      <path d="M170,668 C178,660 190,658 196,662 C194,668 186,674 182,682 C176,690 172,688 168,680 Z"/>
      <path d="M172,708 C182,710 190,718 192,730 C190,738 180,740 172,732 C166,724 166,714 172,708 Z"/>
      <path d="M200,660 C206,656 214,656 218,660 C214,664 206,666 200,664 Z"/>
    </g>
    <clipPath id="gclip"><circle cx="206.5" cy="699.5" r="45.5"/></clipPath>
    <g fill="none" stroke="#f4f8ff" stroke-width="1.7" opacity="0.92" clip-path="url(#gclip)">
      <path d="M161,690 C180,704 210,718 232,728 C240,732 248,732 252,730"/>
      <path d="M169,721 C182,696 200,672 224,664 C236,660 246,662 250,666"/>
      <path d="M176,675 C196,668 222,670 238,680 C246,686 250,694 252,700"/>
      <path d="M189,743 C210,744 232,736 250,711"/>
    </g>
    <circle cx="230" cy="728" r="8" fill="url(#glow)"/>
    <circle cx="176" cy="705" r="7" fill="url(#glow)"/>
    <circle cx="205" cy="671" r="7" fill="url(#glow)"/>
    <circle cx="178" cy="674" r="4" fill="url(#glow)"/>
  </g>

  <g id="boxes">
<path d="M258.5,542.5 L271.5,532 L371,532 L372,534.835 L360.5,543.445 Z" fill="url(#boxtop)"/>
<path d="M360.5,542.5 L371,532.2 L372.5,546.175 L360.5,561.4 Z" fill="#2a2a2c"/>
<rect x="258.5" y="542.5" width="102.0" height="18.899999999999977" fill="#1d1d1f"/>
<rect x="259.0" y="547.8" width="101.0" height="4.2" fill="url(#boxsil)"/>
<rect x="259.0" y="556.3" width="101.0" height="3.8" fill="url(#boxsil)"/>
<path d="M360.5,547.8 L372,541.3 L372,545.4 L360.5,552.0 Z" fill="#8c8c8e"/>
<path d="M360.5,556.3 L372,549.8 L372,553.6 L360.5,560.1 Z" fill="#8c8c8e"/>
<circle cx="284.0" cy="554.1" r="1.1" fill="#4a7a2a"/>
<circle cx="327.9" cy="554.1" r="1.4" fill="#7ee04a"/>
<circle cx="331.9" cy="554.1" r="1.4" fill="#7ee04a"/>
<path d="M438,584 L454,570 L578,570 L579,573.75 L564,585.25 Z" fill="url(#boxtop)"/>
<path d="M564,584 L578,570.2 L579.5,588.75 L564,609 Z" fill="#2a2a2c"/>
<rect x="438" y="584" width="126" height="25" fill="#1d1d1f"/>
<rect x="438.5" y="591.0" width="125" height="5.5" fill="url(#boxsil)"/>
<rect x="438.5" y="602.2" width="125" height="5.0" fill="url(#boxsil)"/>
<path d="M564,591.0 L579,582.3 L579,587.8 L564,596.5 Z" fill="#8c8c8e"/>
<path d="M564,602.2 L579,593.6 L579,598.6 L564,607.2 Z" fill="#8c8c8e"/>
<circle cx="469.5" cy="599.4" r="1.3" fill="#4a7a2a"/>
<circle cx="523.7" cy="599.4" r="1.6" fill="#7ee04a"/>
<circle cx="528.7" cy="599.4" r="1.6" fill="#7ee04a"/>
<path d="M687,614 L706,601 L847,601 L848,605.725 L830,615.575 Z" fill="url(#boxtop)"/>
<path d="M830,614 L847,601.2 L848.5,624.625 L830,645.5 Z" fill="#2a2a2c"/>
<rect x="687" y="614" width="143" height="31.5" fill="#1d1d1f"/>
<rect x="687.5" y="622.8" width="142" height="6.9" fill="url(#boxsil)"/>
<rect x="687.5" y="637.0" width="142" height="6.3" fill="url(#boxsil)"/>
<path d="M830,622.8 L848,614.8 L848,621.7 L830,629.8 Z" fill="#8c8c8e"/>
<path d="M830,637.0 L848,628.9 L848,635.2 L830,643.3 Z" fill="#8c8c8e"/>
<circle cx="722.8" cy="633.4" r="1.4" fill="#4a7a2a"/>
<circle cx="784.2" cy="633.4" r="1.8" fill="#7ee04a"/>
<circle cx="790.0" cy="633.4" r="1.8" fill="#7ee04a"/>

  </g>

  <g fill="#de7230" font-family="Liberation Sans, sans-serif">
    <text x="0" y="419" font-size="24" textLength="154" lengthAdjust="spacingAndGlyphs">Administrator</text>
    <text x="162" y="776" font-size="21.5" textLength="88" lengthAdjust="spacingAndGlyphs">Internet</text>
    <text transform="translate(305,257) skewY(-8.7)" font-size="24" textLength="112" lengthAdjust="spacingAndGlyphs">Location 1</text>
    <text transform="translate(553,260.5) skewY(-8.7)" font-size="24" textLength="112" lengthAdjust="spacingAndGlyphs">Location 2</text>
    <text transform="translate(787,260.5) skewY(-8.7)" font-size="24" textLength="112" lengthAdjust="spacingAndGlyphs">Location 3</text>
  </g>
  <g fill="none" stroke="#e47a30" stroke-width="2">
    <path d="M71.6,546 V680 Q71.6,709.6 101,709.6 H149"/>
    <path d="M339,576 V665 Q339,690.6 314,690.6 H264"/>
    <path d="M543,621 V671 Q543,703.6 510,703.6 H264"/>
    <path d="M809.8,659 V687 Q809.8,717 780,717 H264"/>
  </g>
</svg>

</body></html>
